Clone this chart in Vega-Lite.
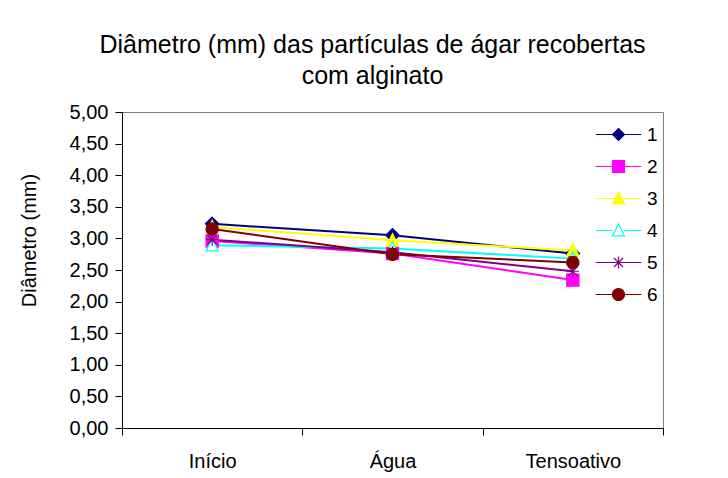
{
  "$schema": "https://vega.github.io/schema/vega-lite/v6.json",
  "autosize": "none",
  "width": 541,
  "height": 316,
  "padding": {"left": 122, "top": 112, "right": 65, "bottom": 50},
  "background": "white",
  "config": {
    "font": "Liberation Sans",
    "view": {"stroke": "#808080", "strokeWidth": 1},
    "axis": {"domainColor": "black", "tickColor": "black", "labelColor": "black", "titleColor": "black", "labelFont": "Liberation Sans", "titleFont": "Liberation Sans", "titleFontWeight": "normal", "grid": false},
    "legend": {"padding": 0, "labelFont": "Liberation Sans", "labelFontSize": 19, "labelColor": "black", "symbolOpacity": 1}
  },
  "title": {
    "text": ["Diâmetro (mm) das partículas de ágar recobertas", "com alginato"],
    "anchor": "middle",
    "frame": "group",
    "dx": -20,
    "fontSize": 25,
    "fontWeight": "normal",
    "lineHeight": 31,
    "color": "black",
    "offset": 13
  },
  "data": {
    "values": [
      {"s": "1", "t": "Início", "v": 3.23},
      {"s": "1", "t": "Água", "v": 3.05},
      {"s": "1", "t": "Tensoativo", "v": 2.76},
      {"s": "2", "t": "Início", "v": 2.96},
      {"s": "2", "t": "Água", "v": 2.76},
      {"s": "2", "t": "Tensoativo", "v": 2.34},
      {"s": "3", "t": "Início", "v": 3.18},
      {"s": "3", "t": "Água", "v": 2.97},
      {"s": "3", "t": "Tensoativo", "v": 2.81},
      {"s": "4", "t": "Início", "v": 2.89},
      {"s": "4", "t": "Água", "v": 2.84},
      {"s": "4", "t": "Tensoativo", "v": 2.68},
      {"s": "5", "t": "Início", "v": 2.98},
      {"s": "5", "t": "Água", "v": 2.78},
      {"s": "5", "t": "Tensoativo", "v": 2.48},
      {"s": "6", "t": "Início", "v": 3.15},
      {"s": "6", "t": "Água", "v": 2.75},
      {"s": "6", "t": "Tensoativo", "v": 2.62}
    ]
  },
  "encoding": {
    "x": {
      "field": "t", "type": "nominal", "sort": ["Início", "Água", "Tensoativo"],
      "bandPosition": 0.5,
      "scale": {"type": "band", "paddingInner": 0, "paddingOuter": 0},
      "axis": {"title": null, "labelAngle": 0, "tickBand": "extent", "tickSize": 7, "labelFontSize": 20, "labelPadding": 16}
    },
    "y": {
      "field": "v", "type": "quantitative",
      "scale": {"domain": [0, 5], "nice": false, "zero": true},
      "axis": {
        "title": "Diâmetro (mm)", "titleFontSize": 20, "titlePadding": 30, "titleY": 128,
        "values": [0, 0.5, 1, 1.5, 2, 2.5, 3, 3.5, 4, 4.5, 5],
        "labelExpr": "replace(format(datum.value, '.2f'), '.', ',')",
        "labelFontSize": 20, "tickSize": 7, "labelPadding": 7
      }
    }
  },
  "layer": [
    {
      "mark": {"type": "line", "strokeWidth": 2},
      "encoding": {
        "stroke": {"field": "s", "type": "nominal", "legend": null,
          "scale": {"domain": ["1", "2", "3", "4", "5", "6"], "range": ["#000080", "#FF00FF", "#FFFF00", "#00FFFF", "#800080", "#800000"]}},
        "detail": {"field": "s"}
      }
    },
    {
      "mark": {"type": "point", "filled": true, "size": 150, "strokeWidth": 1.2, "opacity": 1},
      "encoding": {
        "shape": {"field": "s", "type": "nominal", "legend": null,
          "scale": {"domain": ["1", "2", "3", "4", "5", "6"], "range": [
            "M0,-1.1L1.1,0L0,1.1L-1.1,0Z",
            "M-1,-1L1,-1L1,1L-1,1Z",
            "M0,-1.1L1,0.9L-1,0.9Z",
            "M0,-1.1L1,0.9L-1,0.9Z",
            "M-1,0L1,0M0,-1L0,1M-0.75,-0.75L0.75,0.75M-0.75,0.75L0.75,-0.75",
            "M1,0A1,1,0,1,1,-1,0A1,1,0,1,1,1,0Z"
          ]}},
        "fill": {"field": "s", "type": "nominal", "legend": null,
          "scale": {"domain": ["1", "2", "3", "4", "5", "6"], "range": ["#000080", "#FF00FF", "#FFFF00", "#FFFFFF", "transparent", "#800000"]}},
        "stroke": {"field": "s", "type": "nominal", "legend": null,
          "scale": {"domain": ["1", "2", "3", "4", "5", "6"], "range": ["#000080", "#FF00FF", "#FFFF00", "#00FFFF", "#800080", "#800000"]}}
      }
    },
    {
      "transform": [{"filter": "datum.s == 'legend'"}],
      "mark": {"type": "point", "filled": true, "size": 144, "strokeWidth": 1.2, "opacity": 1},
      "encoding": {
        "shape": {"field": "s", "type": "nominal",
          "legend": {"title": null, "orient": "none", "legendX": 487, "legendY": 13, "symbolSize": 144, "symbolStrokeWidth": 1.2, "symbolOpacity": 1, "labelOffset": 19, "rowPadding": 12},
          "scale": {"domain": ["1", "2", "3", "4", "5", "6"], "range": [
            "M-3.8,0L3.8,0M0,-1L1,0L0,1L-1,0Z",
            "M-3.8,0L3.8,0M-1,-1L1,-1L1,1L-1,1Z",
            "M-3.8,0L3.8,0M0,-1.1L1,0.9L-1,0.9Z",
            "M-3.8,0L-1,0M1,0L3.8,0M0,-1.1L1,0.9L-1,0.9Z",
            "M-3.8,0L3.8,0M0,-1L0,1M-0.75,-0.75L0.75,0.75M-0.75,0.75L0.75,-0.75",
            "M-3.8,0L3.8,0M1,0A1,1,0,1,1,-1,0A1,1,0,1,1,1,0Z"
          ]}},
        "fill": {"field": "s", "type": "nominal",
          "legend": {"title": null, "orient": "none", "legendX": 487, "legendY": 13, "symbolSize": 144, "symbolStrokeWidth": 1.2, "symbolOpacity": 1, "labelOffset": 19, "rowPadding": 12},
          "scale": {"domain": ["1", "2", "3", "4", "5", "6"], "range": ["#000080", "#FF00FF", "#FFFF00", "#FFFFFF", "transparent", "#800000"]}},
        "stroke": {"field": "s", "type": "nominal",
          "legend": {"title": null, "orient": "none", "legendX": 487, "legendY": 13, "symbolSize": 144, "symbolStrokeWidth": 1.2, "symbolOpacity": 1, "labelOffset": 19, "rowPadding": 12},
          "scale": {"domain": ["1", "2", "3", "4", "5", "6"], "range": ["#000080", "#FF00FF", "#FFFF00", "#00FFFF", "#800080", "#800000"]}}
      }
    }
  ],
  "resolve": {"scale": {"shape": "independent", "fill": "independent", "stroke": "independent"}}
}
